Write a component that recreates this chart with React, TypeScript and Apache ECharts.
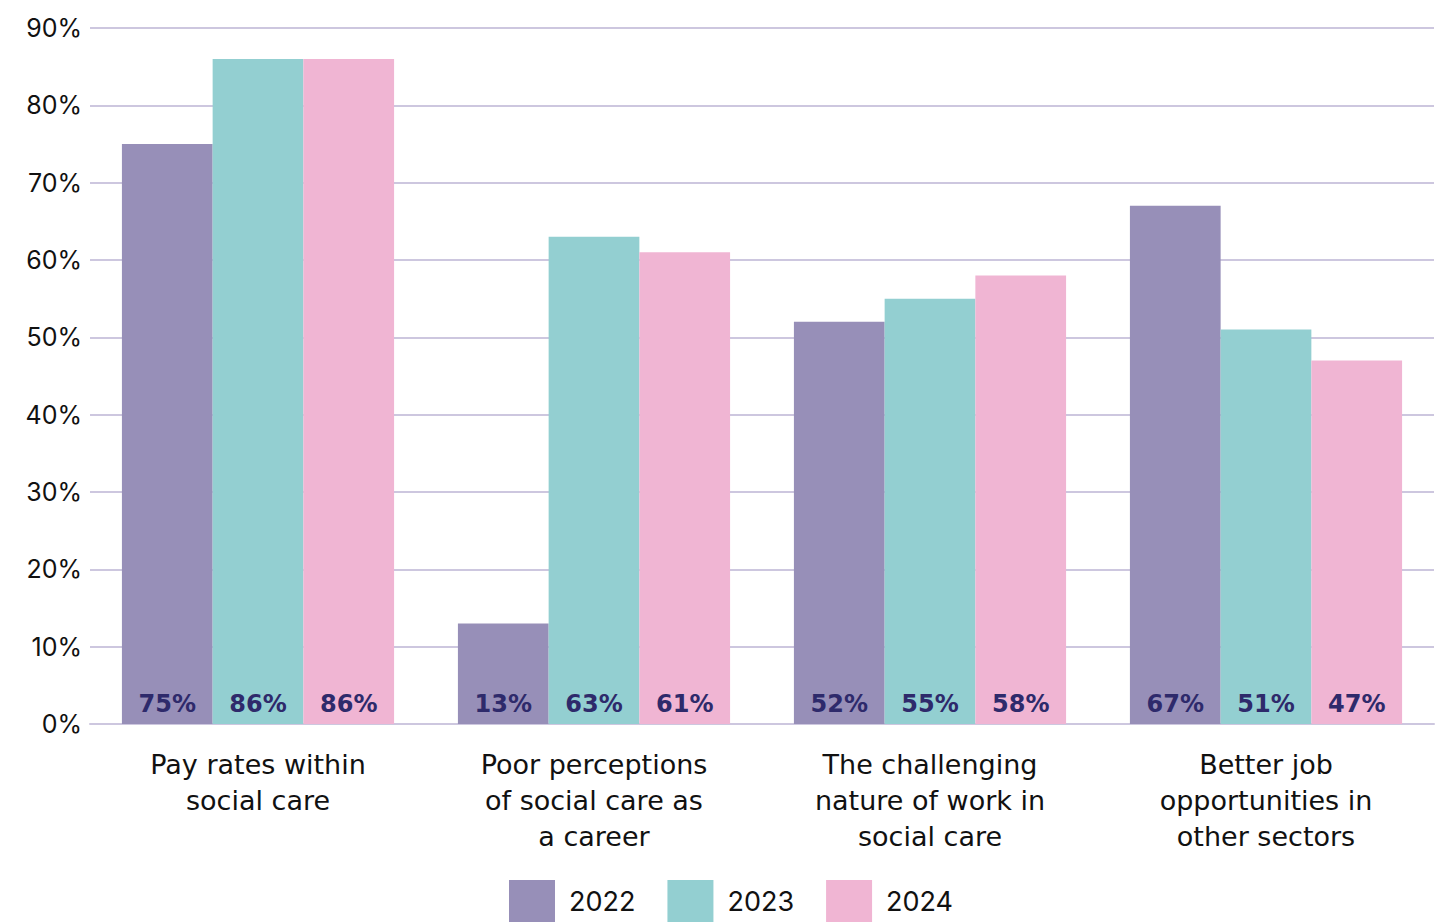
import React, { useEffect, useRef } from "react";
import * as echarts from "echarts";

const categories = [
  "Pay rates within\nsocial care",
  "Poor perceptions\nof social care as\na career",
  "The challenging\nnature of work in\nsocial care",
  "Better job\nopportunities in\nother sectors",
];
const years = ["2022", "2023", "2024"];
const values2022 = [75, 13, 52, 67];
const values2023 = [86, 63, 55, 51];
const values2024 = [86, 61, 58, 47];
const colors = ["#978fb8", "#93cfd1", "#f0b5d3"];

export default function App() {
  const ref = useRef<HTMLDivElement>(null);
  useEffect(() => {
    const chart = echarts.init(ref.current!, null, { renderer: "svg" });
    const data = [values2022, values2023, values2024];
    chart.setOption({
      animation: false,
      grid: { left: 90, right: 2, top: 28, bottom: 198, containLabel: false },
      legend: {
        data: years,
        top: 880,
        left: 509,
        itemWidth: 46,
        itemHeight: 42,
        itemGap: 32,
        icon: "rect",
        padding: 0,
        textStyle: { fontSize: 27, color: "#111", fontFamily: "Inter", padding: [0, 0, 0, 9] },
      },
      xAxis: {
        type: "category",
        data: categories,
        axisLine: { lineStyle: { color: "#cdc7df", width: 2 } },
        axisTick: { show: false },
        axisLabel: {
          fontSize: 27,
          lineHeight: 36,
          color: "#111",
          margin: 22,
          interval: 0,
          fontFamily: "DejaVu Sans",
        },
      },
      yAxis: {
        type: "value",
        min: 0,
        max: 90,
        interval: 10,
        axisLabel: {
          formatter: "{value}%",
          fontSize: 25,
          color: "#111",
          margin: 8,
          fontFamily: "Inter",
        },
        splitLine: { lineStyle: { color: "#cdc7df", width: 2 } },
        axisLine: { show: false },
        axisTick: { show: false },
      },
      series: years.map((y, i) => ({
        name: y,
        type: "bar",
        data: data[i],
        barGap: "0%",
        barCategoryGap: "19%",
        itemStyle: { color: colors[i] },
        label: {
          show: true,
          position: "insideBottom",
          distance: 8,
          formatter: "{c}%",
          fontSize: 24,
          fontWeight: "bold",
          color: "#2e2a6b",
          fontFamily: "DejaVu Sans",
        },
      })),
    });
    return () => chart.dispose();
  }, []);
  return (
    <div
      ref={ref}
      style={{ position: "fixed", left: 0, top: 0, width: 1436, height: 922, background: "#fff" }}
    />
  );
}
